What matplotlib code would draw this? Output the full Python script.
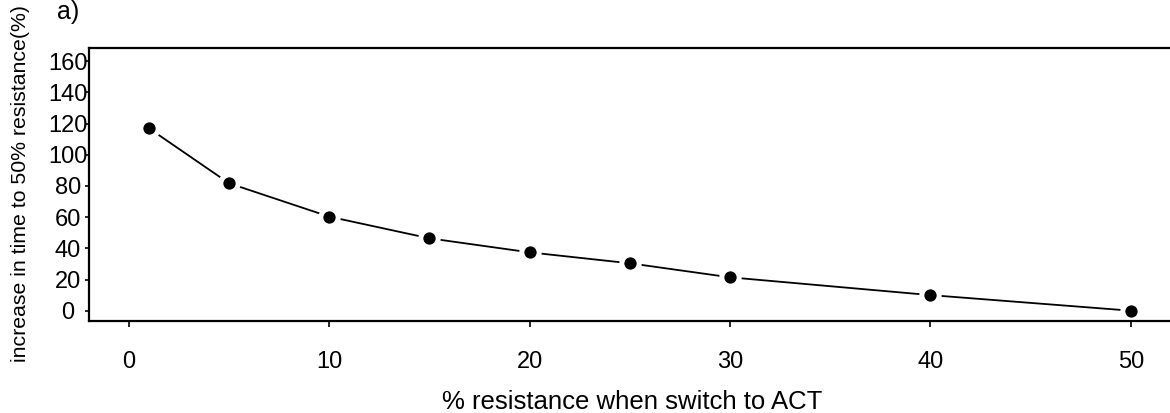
import matplotlib
matplotlib.use("Agg")
import matplotlib.pyplot as plt

plt.rcParams['font.family'] = ['Liberation Sans', 'DejaVu Sans']

# % resistance when switching to ACT, and the increase in time to 50% resistance
switch_resistance = [1, 5, 10, 15, 20, 25, 30, 40, 50]
time_increase = [117, 81.7, 60.3, 46.4, 37.4, 30.4, 21.4, 10.0, 0.0]

x_ticks = [0, 10, 20, 30, 40, 50]
y_ticks = [0, 20, 40, 60, 80, 100, 120, 140, 160]

W, H = 1170, 413
fig = plt.figure(figsize=(W / 100, H / 100), dpi=100)
ax = fig.add_axes([88.7 / W, (H - 321) / H, (1175 - 88.7) / W, (321 - 47.7) / H])

# R type="b" look: white halo around the dots leaves a gap in the line
ax.plot(switch_resistance, time_increase, color='black', lw=1.3,
        marker='o', ms=12.5, mfc='black', mec='white', mew=3.6, zorder=2)

ax.set_xlim(-2.0, 52.2)
ax.set_ylim(-6.6, 168.6)
ax.set_xticks(x_ticks)
ax.set_yticks(y_ticks)

for s in ['left', 'top', 'bottom']:
    ax.spines[s].set_linewidth(1.6)
    ax.spines[s].set_zorder(3)
ax.spines['right'].set_visible(False)

ax.tick_params(axis='x', length=4.5, width=1.2, pad=17, labelsize=17)
ax.tick_params(axis='y', length=3, width=1.2, pad=12, labelsize=17)
for lbl in ax.get_yticklabels():
    lbl.set_ha('center')

ax.set_xlabel('% resistance when switch to ACT', fontsize=18.5)
ax.xaxis.set_label_coords(0.5, -0.296)
ax.xaxis.label.set_va('center')

fig.text(21 / W, 1 - 183 / H, 'increase in time to 50% resistance(%)',
         rotation=90, ha='center', va='center', fontsize=15.3)
fig.text(57 / W, 1 - 19 / H, 'a)', ha='left', va='baseline', fontsize=18)

fig.savefig('out.png', dpi=100)
